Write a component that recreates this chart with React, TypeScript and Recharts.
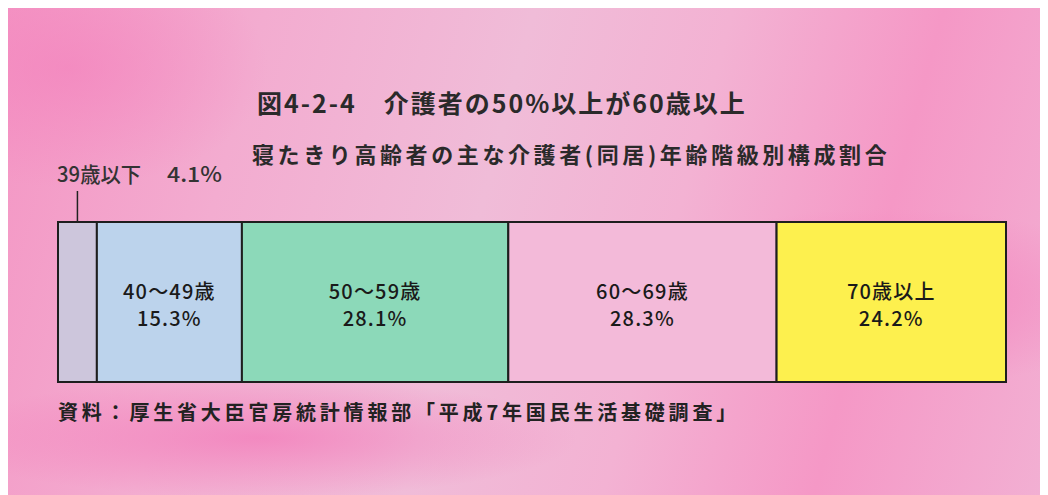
import React from 'react';
import { BarChart, Bar, XAxis, YAxis } from 'recharts';

// 年齢階級別構成割合（%）
const ageGroups = ['39歳以下', '40～49歳', '50～59歳', '60～69歳', '70歳以上'];
const shares = [4.1, 15.3, 28.1, 28.3, 24.2];
const fills = ['#cdc6dc', '#bcd3ec', '#8cd9b9', '#f3bad9', '#fdf04e'];

const titleText = '図4-2-4　介護者の50%以上が60歳以上';
const subtitleText = '寝たきり高齢者の主な介護者(同居)年齢階級別構成割合';
const sourceText = '資料：厚生省大臣官房統計情報部「平成7年国民生活基礎調査」';

const row: Record<string, string | number> = { name: 'all' };
ageGroups.forEach((g, i) => {
  row[`s${i}`] = shares[i];
});
const chartData = [row];

const FONT = '"Noto Sans CJK JP", "Noto Sans", sans-serif';

const innerText = { fontFamily: FONT, fontSize: 20, fontWeight: 500, letterSpacing: 1.2 };

const makeLabel = (i: number) => (props: any) => {
  const { x, y, width, height } = props;
  const cx = x + width / 2;
  const cy = y + height / 2;
  if (i === 0) {
    // 細い区分は上に引き出し線で表示
    return (
      <g>
        <line x1={cx} y1={y - 31} x2={cx} y2={y} stroke="#222" strokeWidth={1.5} />
        <text x={x - 1} y={y - 40} fill="#333" fontSize={21} fontFamily={FONT} fontWeight={500} textLength={84} lengthAdjust="spacingAndGlyphs">
          {ageGroups[0]}
        </text>
        <text x={x + 109} y={y - 40} fill="#333" fontSize={21} fontFamily={FONT} fontWeight={500} textLength={55} lengthAdjust="spacingAndGlyphs">
          {`${shares[0]}%`}
        </text>
      </g>
    );
  }
  return (
    <g>
      <text x={cx} y={cy - 12} textAnchor="middle" dominantBaseline="central" fill="#1a1a1a" style={innerText}>
        {ageGroups[i]}
      </text>
      <text x={cx} y={cy + 15} textAnchor="middle" dominantBaseline="central" fill="#1a1a1a" style={innerText}>
        {`${shares[i]}%`}
      </text>
    </g>
  );
};

export default function App() {
  return (
    <div
      style={{
        position: 'relative',
        width: 1040,
        height: 487,
        background:
          'radial-gradient(ellipse 260px 90px at 880px 290px, rgba(243,128,188,0.75), rgba(243,128,188,0) 100%), ' +
          'radial-gradient(ellipse 320px 60px at 250px 430px, rgba(243,120,184,0.7), rgba(243,120,184,0) 100%), ' +
          'radial-gradient(ellipse 200px 120px at 60px 60px, rgba(243,128,188,0.6), rgba(243,128,188,0) 100%), ' +
          'linear-gradient(105deg, #f496c4 0%, #f3acd0 22%, #f0bcd8 45%, #f3b2d3 62%, #f598c6 80%, #f2b0d3 100%)',
        fontFamily: FONT,
      }}
    >
      <div style={{ position: 'absolute', left: 249, top: 76, fontSize: 25, fontWeight: 700, color: '#2a2a2a', whiteSpace: 'nowrap', letterSpacing: 2 }}>
        {titleText}
      </div>
      <div style={{ position: 'absolute', left: 244, top: 129, fontSize: 22, fontWeight: 700, color: '#2a2a2a', whiteSpace: 'nowrap', letterSpacing: 3.6 }}>
        {subtitleText}
      </div>
      <div style={{ position: 'absolute', left: 50, top: 389, fontSize: 20, fontWeight: 700, color: '#222', whiteSpace: 'nowrap', letterSpacing: 3.8 }}>
        {sourceText}
      </div>
      <div style={{ position: 'absolute', left: 0, top: 0 }}>
        <BarChart
          width={1040}
          height={487}
          data={chartData}
          layout="vertical"
          margin={{ top: 214, right: 42, bottom: 113, left: 50 }}
          barCategoryGap={0}
        >
          <XAxis type="number" domain={[0, 100]} hide />
          <YAxis type="category" dataKey="name" hide />
          {ageGroups.map((g, i) => (
            <Bar
              key={g}
              dataKey={`s${i}`}
              stackId="a"
              fill={fills[i]}
              stroke="#1e1e1e"
              strokeWidth={2}
              isAnimationActive={false}
              label={makeLabel(i)}
            />
          ))}
        </BarChart>
      </div>
    </div>
  );
}
